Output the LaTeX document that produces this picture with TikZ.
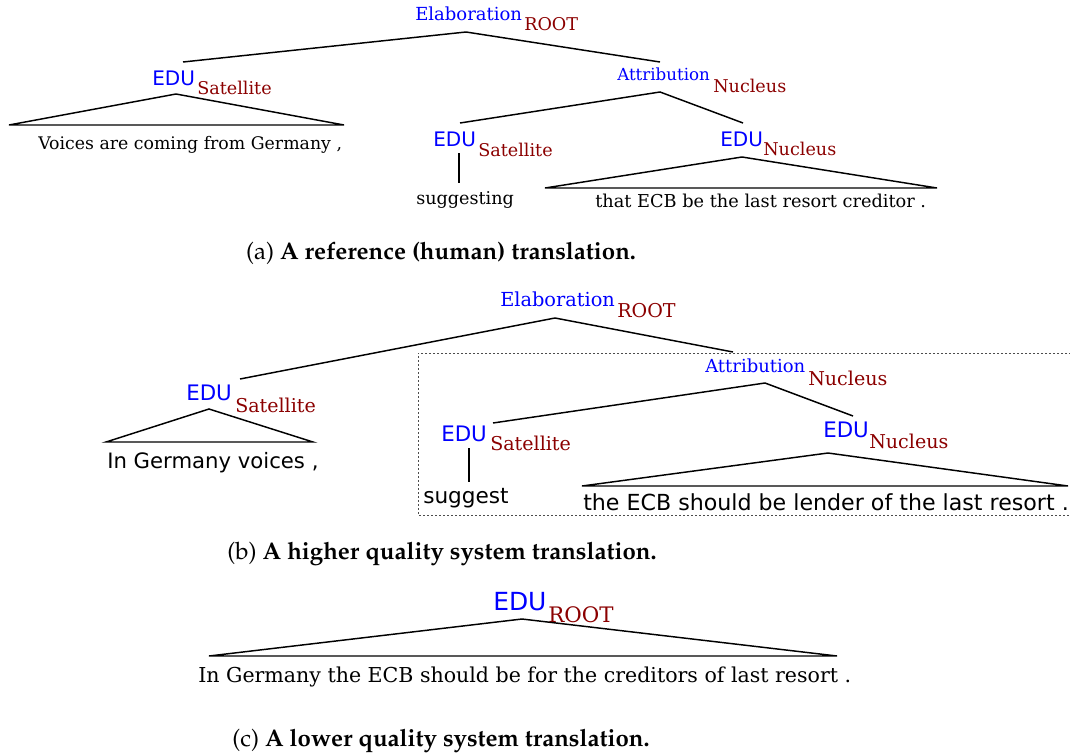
\documentclass[tikz,border=0pt]{standalone}
\usepackage[T1,TU]{fontenc}
\usepackage{fontspec}
\setmainfont{DejaVu Serif}
\newfontfamily\dvsans{DejaVu Sans}
\newfontfamily\dvserif{DejaVu Serif}
\newcommand\fs[1]{\fontsize{#1}{#1}\selectfont}
\newcommand\capfont{\fontencoding{T1}\fontfamily{ppl}\selectfont}
\definecolor{relblue}{RGB}{0,0,255}
\definecolor{nucred}{RGB}{139,0,0}
\tikzset{
  rel/.style={anchor=base west, inner sep=0pt, text=relblue, font=\dvserif\fs{#1}},
  edu/.style={anchor=base west, inner sep=0pt, text=relblue, font=\dvsans\fs{#1}},
  sub/.style={anchor=base west, inner sep=0pt, text=nucred, font=\dvserif\fs{#1}},
  sent/.style={anchor=base west, inner sep=0pt, text=black, font=\dvserif\fs{#1}},
  sentsans/.style={anchor=base west, inner sep=0pt, text=black, font=\dvsans\fs{#1}},
  capt/.style={anchor=base, inner sep=0pt, text=black, font=\capfont\fs{#1}},
  branch/.style={line width=1.1pt, line join=miter},
  boxline/.style={line width=0.75pt, draw=black!70, dash pattern=on 1.5pt off 1.5pt},
}
\begin{document}
\begin{tikzpicture}[x=0.75pt, y=-0.75pt]
\useasboundingbox (0,0) rectangle (1070,753);
\clip (0,0) rectangle (1070,753);

% ---------------- (a) ----------------
\node[rel=13.5] (aRoot) at (415,21) {Elaboration};
\node[sub=13.2] (aRootS) at (524,31) {ROOT};
\coordinate (aRootApex) at (466,32);
\coordinate (aL) at (183,62);
\coordinate (aR) at (660,62);
\draw[branch] (aL) -- (aRootApex) -- (aR);

\node[edu=15] (aE1) at (152,85) {EDU};
\node[sub=13.2] (aE1S) at (197,94) {Satellite};
\coordinate (aE1Apex) at (176,94);
\coordinate (aE1BL) at (9,125);
\coordinate (aE1BR) at (344,125);
\draw[branch] (aE1Apex) -- (aE1BL) -- (aE1BR) -- cycle;
\node[sent=13.0] (aT1) at (38,149) {Voices are coming from Germany ,};

\node[rel=12.5] (aAtt) at (617,80) {Attribution};
\node[sub=13.2] (aAttS) at (713,92) {Nucleus};
\coordinate (aAttApex) at (660,92);
\coordinate (aAL) at (460,123);
\coordinate (aAR) at (743,123);
\draw[branch] (aAL) -- (aAttApex) -- (aAR);

\node[edu=15] (aE2) at (433,146) {EDU};
\node[sub=13.2] (aE2S) at (478,156) {Satellite};
\coordinate (aE2Bot) at (459,153);
\coordinate (aT2Top) at (459,183);
\draw[branch] (aE2Bot) -- (aT2Top);
\node[sent=13.2] (aT2) at (416,204) {suggesting};

\node[edu=15] (aE3) at (720,146) {EDU};
\node[sub=13.2] (aE3S) at (763,155) {Nucleus};
\coordinate (aE3Apex) at (742,157);
\coordinate (aE3BL) at (545,188);
\coordinate (aE3BR) at (937,188);
\draw[branch] (aE3Apex) -- (aE3BL) -- (aE3BR) -- cycle;
\node[sent=13.3] (aT3) at (595,207) {that ECB be the last resort creditor .};

\node[capt=18] (capA) at (441,259) {(a) \textbf{A reference (human) translation.}};

% ---------------- (b) ----------------
\node[rel=14.5] (bRoot) at (500,306) {Elaboration};
\node[sub=14.3] (bRootS) at (617,317) {ROOT};
\coordinate (bRootApex) at (555,318);
\coordinate (bL) at (240,379);
\coordinate (bR) at (733,352);
\draw[branch] (bL) -- (bRootApex) -- (bR);

\coordinate (boxTR) at (1075,353);
\coordinate (boxTL) at (418,353);
\coordinate (boxBL) at (418,515);
\coordinate (boxBR) at (1075,515);
\draw[boxline] (boxTR) -- (boxTL) -- (boxBL) -- (boxBR);

\node[edu=16] (bE1) at (186,400) {EDU};
\node[sub=14.3] (bE1S) at (235,412) {Satellite};
\coordinate (bE1Apex) at (209,409);
\coordinate (bE1BL) at (106,442);
\coordinate (bE1BR) at (313,442);
\draw[branch] (bE1Apex) -- (bE1BL) -- (bE1BR) -- cycle;
\node[sentsans=15.9] (bT1) at (107,468) {In Germany voices ,};

\node[rel=13.5] (bAtt) at (705,372) {Attribution};
\node[sub=14.3] (bAttS) at (808,385) {Nucleus};
\coordinate (bAttApex) at (765,383);
\coordinate (bAL) at (493,423);
\coordinate (bAR) at (853,416);
\draw[branch] (bAL) -- (bAttApex) -- (bAR);

\node[edu=16] (bE2) at (441,441) {EDU};
\node[sub=14.3] (bE2S) at (490,450) {Satellite};
\coordinate (bE2Bot) at (469,448);
\coordinate (bT2Top) at (469,482);
\draw[branch] (bE2Bot) -- (bT2Top);
\node[sentsans=16.2] (bT2) at (423,503) {suggest};

\node[edu=16] (bE3) at (823,437) {EDU};
\node[sub=14.3] (bE3S) at (869,448) {Nucleus};
\coordinate (bE3Apex) at (828,453);
\coordinate (bE3BL) at (582,486);
\coordinate (bE3BR) at (1068,486);
\draw[branch] (bE3Apex) -- (bE3BL) -- (bE3BR) -- cycle;
\node[sentsans=16.6] (bT3) at (583,510) {the ECB should be lender of the last resort .};

\node[capt=18] (capB) at (442,559) {(b) \textbf{A higher quality system translation.}};

% ---------------- (c) ----------------
\node[edu=18.7] (cE) at (493,610) {EDU};
\node[sub=16] (cES) at (548,622) {ROOT};
\coordinate (cApex) at (522,619);
\coordinate (cBL) at (209,656);
\coordinate (cBR) at (837,656);
\draw[branch] (cApex) -- (cBL) -- (cBR) -- cycle;
\node[sent=15.4] (cT) at (198,682) {In Germany the ECB should be for the creditors of last resort .};

\node[capt=18] (capC) at (441,746) {(c) \textbf{A lower quality system translation.}};
\end{tikzpicture}
\end{document}
